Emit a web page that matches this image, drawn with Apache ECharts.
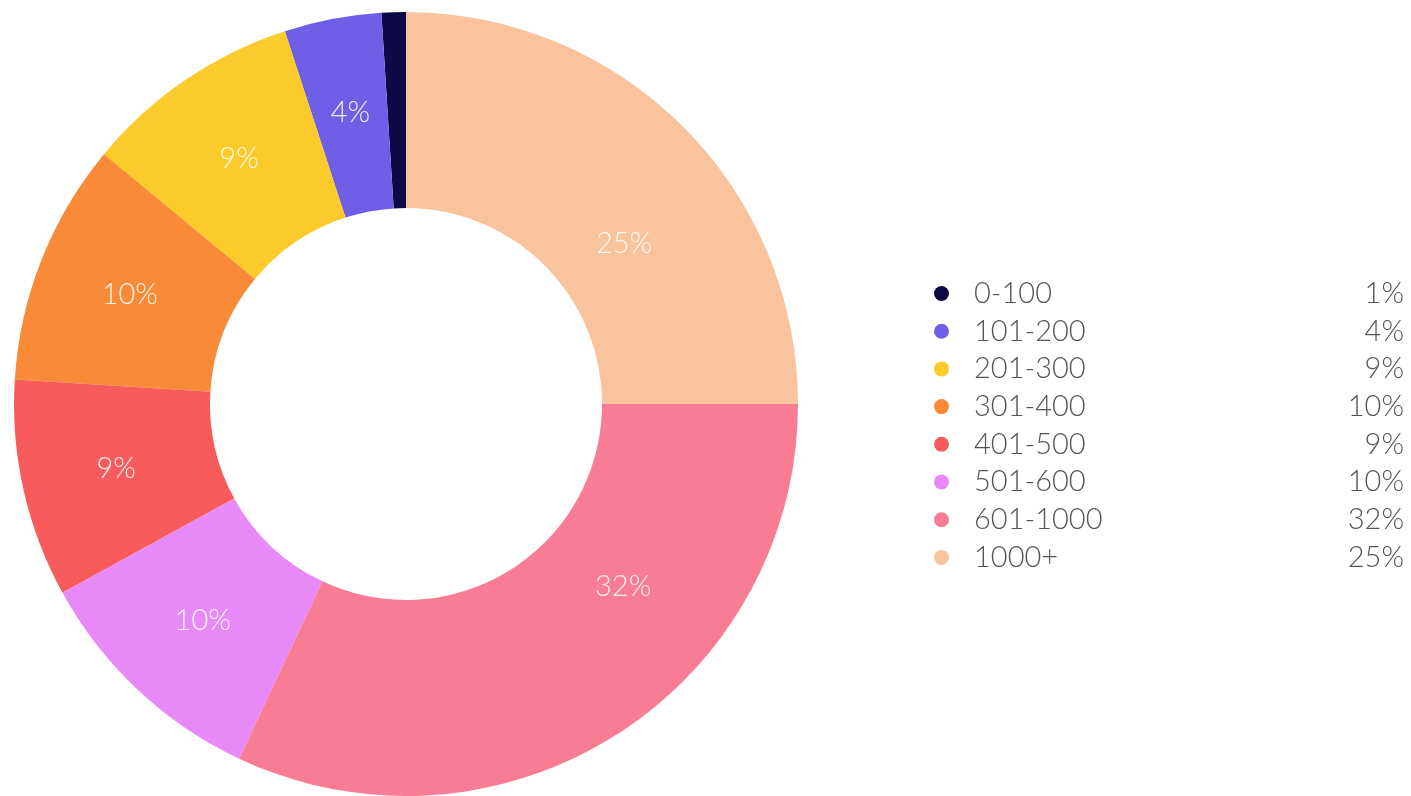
<!DOCTYPE html>
<html>
<head>
<meta charset="utf-8">
<script src="https://cdn.jsdelivr.net/npm/echarts@6/dist/echarts.min.js"></script>
<style>
  html, body { margin: 0; padding: 0; background: #ffffff; }
  #chart { width: 1411px; height: 796px; }
</style>
</head>
<body>
<div id="chart"></div>
<script>
// Score bands and their share of the total (percent)
const categories = ['0-100', '101-200', '201-300', '301-400', '401-500', '501-600', '601-1000', '1000+'];
const shares = [1, 4, 9, 10, 9, 10, 32, 25];
const palette = ['#0c0946', '#6f5fe7', '#fbcb2b', '#f98a38', '#f85b5b', '#e78af8', '#f87c93', '#f9c39e'];

const FONT = 'Lato, "Open Sans", sans-serif';
const MIN_LABELLED_SHARE = 2;   // slices thinner than this carry no label
// label nudges for the two wide slices (pixels)
const labelNudge = { '601-1000': [58, -68], '1000+': [8, 50] };

const shareByName = {};
categories.forEach((c, i) => { shareByName[c] = shares[i]; });

const textBase = { fontFamily: FONT, fontWeight: 300, color: '#555555', fontSize: 29, lineHeight: 30 };

const chart = echarts.init(document.getElementById('chart'));
chart.setOption({
  animation: false,
  color: palette,
  legend: {
    orient: 'vertical',
    left: 929,
    top: 274,
    icon: 'circle',
    itemWidth: 15,
    itemHeight: 15,
    itemGap: 8.7,
    data: categories,
    formatter: name => '{s|}{n|' + name + '}{v|' + shareByName[name] + '%}',
    textStyle: {
      fontFamily: FONT,
      fontWeight: 300,
      color: '#555555',
      rich: {
        s: Object.assign({}, textBase, { width: 20 }),
        n: Object.assign({}, textBase, { width: 368 }),
        v: Object.assign({}, textBase, { width: 62, align: 'right' })
      }
    }
  },
  series: [{
    type: 'pie',
    center: [406, 404],
    radius: [196, 392],
    startAngle: 90,
    clockwise: false,
    avoidLabelOverlap: false,
    label: {
      show: true,
      position: 'inside',
      formatter: '{c}%',
      color: 'rgba(255,255,255,0.9)',
      fontFamily: FONT,
      fontWeight: 300,
      fontSize: 29
    },
    labelLine: { show: false },
    emphasis: { disabled: true },
    itemStyle: { borderWidth: 0 },
    data: categories.map((c, i) => {
      const item = { name: c, value: shares[i] };
      if (shares[i] < MIN_LABELLED_SHARE) item.label = { show: false };
      else if (labelNudge[c]) item.label = { offset: labelNudge[c] };
      return item;
    })
  }]
});
</script>
</body>
</html>
